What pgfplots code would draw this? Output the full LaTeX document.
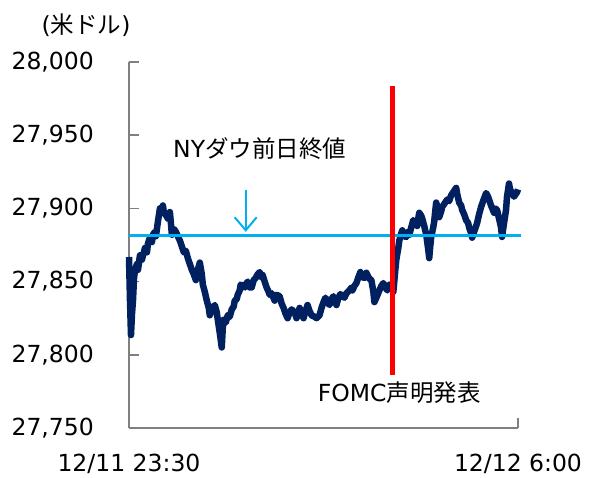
\documentclass[border=0pt]{standalone}
\usepackage{fontspec}
\setmainfont{DejaVu Sans}
\newfontfamily\cjk{Noto Sans CJK JP}
\usepackage{pgfplots}
\pgfplotsset{compat=1.18}
\usetikzlibrary{arrows.meta}
\definecolor{navy}{HTML}{002060}
\definecolor{lblue}{HTML}{00B0F0}
\definecolor{axgray}{HTML}{808080}
\begin{document}
\fontsize{23.5}{28}\selectfont
\begin{tikzpicture}
\path[use as bounding box] (-129pt,-50pt) rectangle (467pt,428pt);
\begin{axis}[at={(0pt,0pt)}, anchor=south west, scale only axis,
  width=389pt, height=366pt,
  xmin=0, xmax=390, ymin=27750, ymax=28000,
  axis lines*=left, clip=false,
  axis line style={axgray, line width=1.5pt},
  ytick={27750,27800,...,28000},
  scaled y ticks=false,
  xtick={0,390}, xticklabels={12/11 23:30,12/12 6:00},
  tick align=inside, major tick length=10pt,
  tick style={axgray, line width=1.5pt},
  every tick label/.append style={font=\fontsize{23.5}{28}\selectfont},
  yticklabel style={anchor=east, inner sep=0pt, xshift=-35pt,
    /pgf/number format/fixed, /pgf/number format/precision=0,
    /pgf/number format/1000 sep={,}, /pgf/number format/assume math mode=true},
  xticklabel style={anchor=base, inner sep=0pt, yshift=-44pt},
]
\addplot[navy, line width=6.5pt, line join=round] coordinates {
(0,27866.8) (1,27837) (2,27813.5) (3,27828) (4,27837) (5,27852) (6,27858) (8,27862) (9,27858)
(11,27868) (13,27865) (16,27873) (18,27870) (19,27876) (21,27880) (23,27877) (24,27882)
(26,27884) (27,27881) (29,27891) (31,27900) (33,27898) (34,27902) (35,27897) (37,27895.5)
(39,27893) (41,27897.5) (42,27890) (43,27882) (45,27886) (47,27884) (49,27881) (51,27878)
(53,27874) (55,27870) (57,27871) (59,27866) (61,27862) (63,27858) (65,27855) (67,27851)
(69,27858) (71,27863) (73,27855) (74,27848) (76,27843) (78,27837) (80,27832) (81,27827)
(83,27831) (86,27834) (88,27829) (89,27824) (91,27815) (93,27805) (94,27818) (95,27824)
(97,27822) (99,27827) (101,27826) (103,27831) (105,27833) (106,27837) (108,27838)
(109,27841) (111,27844) (112,27848) (114,27847) (116,27846) (118,27849) (119,27850)
(121,27846) (123,27846) (125,27851) (127,27852.5) (129,27855) (131,27856.5) (133,27853)
(134,27854.5) (136,27850) (138,27846) (140,27843) (141,27841) (143,27842) (146,27837)
(148,27841) (151,27840) (153,27835) (155,27832) (157,27828) (159,27825) (161,27829)
(163,27831) (166,27829) (168,27825) (170,27829) (171,27832) (173,27829) (175,27825)
(177,27830) (179,27834) (181,27830) (183,27827) (186,27826) (188,27825) (191,27827)
(193,27832) (195,27836) (197,27839) (199,27836) (201,27834) (203,27838) (205,27840)
(207,27836) (208,27834) (210,27839) (212,27841.5) (214,27840) (216,27839) (218,27842)
(221,27844) (223,27846) (224,27844) (226,27847) (228,27849) (230,27853) (232,27856.5)
(234,27853) (236,27852.5) (238,27856) (239,27854.5) (241,27852) (243,27851) (245,27843)
(246,27836) (248,27839) (251,27844) (253,27847) (255,27849) (257,27846) (259,27844)
(261,27848) (263,27846) (265,27843) (267,27858) (268,27865) (270,27873) (271,27878)
(273,27883) (274,27885) (276,27881) (278,27880.5) (280,27884) (281,27882) (283,27887)
(285,27892) (287,27890) (289,27888) (290,27893) (291,27897) (293,27895) (294,27893)
(296,27888) (298,27882) (300,27872) (301,27866) (302,27874) (303,27880.5) (305,27887)
(306,27891) (307,27898) (308,27904) (310,27899) (311,27894) (313,27898) (314,27901)
(316,27903) (319,27906) (321,27905) (323,27909) (325,27911) (328,27914) (329,27910)
(331,27904) (333,27902) (334,27899) (336,27896) (338,27892) (340,27890) (341,27887)
(343,27883) (344,27880) (346,27884) (349,27890) (351,27896) (353,27901) (355,27905)
(358,27910.5) (360,27908) (361,27906) (363,27902) (366,27897) (367,27900) (369,27899)
(371,27893) (373,27887) (374,27880.5) (376,27890) (378,27899) (379,27908) (381,27917)
(382,27913) (384,27910.5) (386,27908) (389,27911) (390,27913)
};
\addplot[lblue, line width=3pt] coordinates {(0,27881.5) (393,27881.5)};
\addplot[red, line width=5.5pt] coordinates {(264,27786.2) (264,27983.6)};
\addplot[lblue, line width=2pt, -{Straight Barb[length=13pt, width=22pt]}] coordinates {(117,27912.5) (117,27884)};
\node at (axis cs:131,27941) {NY{\cjk ダウ前日終値}};
\node at (axis cs:271,27774) {FOMC{\cjk 声明発表}};
\node at (axis cs:-43,28025) {({\cjk 米ドル})};
\end{axis}
\end{tikzpicture}
\end{document}
